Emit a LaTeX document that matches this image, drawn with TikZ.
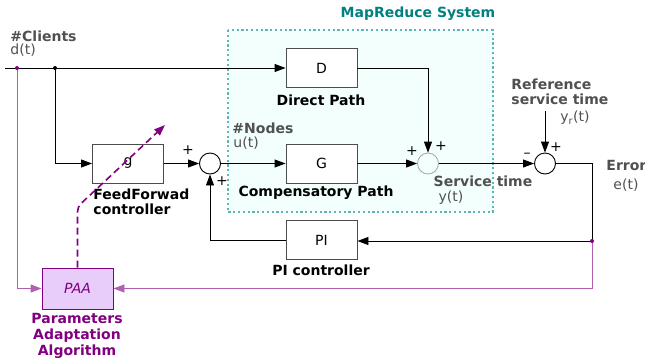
\documentclass[tikz,border=0pt]{standalone}
\usepackage{fontspec}
\setmainfont{DejaVu Sans}
\usetikzlibrary{arrows.meta}
\definecolor{gtxt}{HTML}{505050}
\definecolor{purp}{HTML}{800080}
\definecolor{purl}{HTML}{B060B0}
\definecolor{tealb}{HTML}{5FB5B5}
\definecolor{tealt}{HTML}{008080}
\definecolor{cyanf}{HTML}{F2FFFD}
\definecolor{paaf}{HTML}{E8CCFA}
\tikzset{
  every picture/.style={line width=0.9pt},
  blk/.style={draw=black!70, fill=white, minimum width=71pt, minimum height=39pt, inner sep=0pt, font=\fontsize{14}{15}\selectfont},
  sumc/.style={draw, circle, minimum size=21pt, inner sep=0pt, fill=white},
  arr/.style={-{Triangle[length=11pt,width=8pt]}},
  lbl/.style={font=\bfseries\fontsize{14}{14.5}\selectfont, inner sep=0pt},
  glbl/.style={lbl, text=gtxt},
  sig/.style={font=\fontsize{14}{15}\selectfont, text=gtxt, inner sep=0pt},
  pm/.style={font=\fontsize{14}{15}\selectfont, inner sep=0pt},
  dotn/.style={circle, fill, inner sep=0pt, minimum size=4pt}
}
\begin{document}
\begin{tikzpicture}[x=1pt,y=-1pt]
\useasboundingbox (0,0) rectangle (645,362);
% MapReduce system box
\fill[cyanf] (228,30) rectangle (493,212);
\draw[tealb, line width=2.2pt, dash pattern=on 2.2pt off 2.6pt] (228,30) rectangle (493,212);
\node[lbl, text=tealt] (mrt) at (418,14) {MapReduce System};
% blocks
\node[blk] (D) at (321.5,68) {D};
\node[blk] (G) at (321.5,163.5) {G};
\node[blk] (g) at (128,163.5) {g};
\node[blk] (PI) at (321.5,240) {PI};
\node[draw=purp, fill=paaf, minimum width=71pt, minimum height=41pt, inner sep=0pt, font=\itshape\fontsize{14}{15}\selectfont, text=purp] (PAA) at (77.5,288.5) {PAA};
% sums
\node[sumc] (s1) at (210,163.5) {};
\node[sumc, draw=black!35, line width=0.8pt, fill=none] (s2) at (428,163.5) {};
\node[sumc] (s3) at (545,163.5) {};
% labels
\node[glbl, anchor=west] (cl) at (10,36) {\#Clients};
\node[sig, anchor=west] (dt) at (10,50) {d(t)};
\node[lbl] (dp) at (321,100) {Direct Path};
\node[glbl, anchor=west] (nd) at (232,128) {\#Nodes};
\node[sig, anchor=west] (ut) at (233,143) {u(t)};
\node[lbl] (cp) at (316,193) {Compensatory Path};
\node[lbl, anchor=west, align=left] (ff) at (93,202) {FeedForwad\\controller};
\node[lbl] (pic) at (321,270) {PI controller};
\node[glbl, align=left, anchor=west] (ref) at (511,92) {Reference\\service time};
\node[sig] (yr) at (575,118) {y\textsubscript{r}(t)};
\node[glbl] (st) at (483,181) {Service time};
\node[sig] (yt) at (451,198) {y(t)};
\node[glbl, anchor=west] (er) at (606,165) {Error};
\node[sig] (et) at (626,185) {e(t)};
\node[lbl, text=purp, align=center, font=\bfseries\fontsize{14}{16}\selectfont] (paat) at (77,336) {Parameters\\Adaptation\\Algorithm};
% signs
\node[pm] (p1) at (188,150) {+};
\node[pm] (p2) at (222,181) {+};
\node[pm] (p3) at (412,151) {+};
\node[pm] (p4) at (441,146) {+};
\node[pm] (p5) at (527,155) {--};
\node[pm] (p6) at (556,147) {+};
% coordinates
\coordinate (start) at (5,68);
\coordinate (dp1) at (17,68);
\coordinate (dp2) at (55,68);
\coordinate (ed) at (592,241);
\coordinate (refs) at (545,111);
% main lines
\draw (start) -- (dp2);
\draw[arr] (dp2) -- (D.west);
\draw[arr] (dp2) |- (g.west);
\draw[arr] (g.east) -- (s1.west);
\draw[arr] (s1.east) -- (G.west);
\draw[arr] (G.east) -- (s2.west);
\draw[arr] (D.east) -| (s2.north);
\draw[arr] (s2.east) -- (s3.west);
\draw[arr] (refs) -- (s3.north);
\draw (s3.east) -| (ed);
\draw[arr] (ed) -- (PI.east |- ed);
\draw[arr] (PI.west) -| (s1.south);
% purple
\draw[purl, arr] (dp1) |- (PAA.west);
\draw[purl, arr] (ed) |- (PAA.east);
\draw[purp, line width=1.6pt, dash pattern=on 7pt off 4pt, arr] (PAA.north) -- (77.5,212) to[out=90,in=225] (88,197) -- (165,125);
\node[dotn, purp] (d1) at (dp1) {};
\node[dotn] (d2) at (dp2) {};
\node[dotn, purp] (d3) at (ed) {};
\end{tikzpicture}
\end{document}
